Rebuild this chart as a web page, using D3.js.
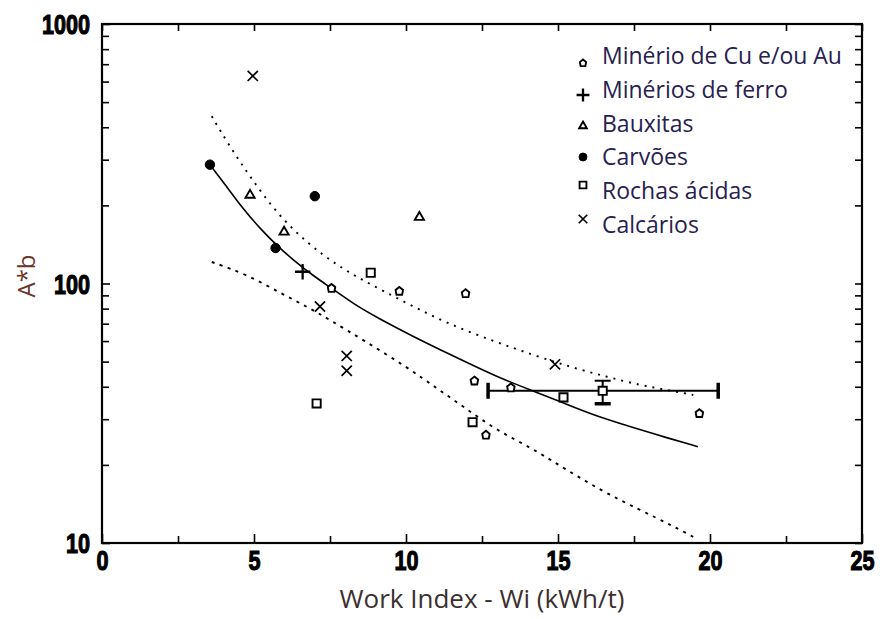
<!DOCTYPE html>
<html><head><meta charset="utf-8">
<script src="https://cdn.jsdelivr.net/npm/d3@7"></script>
<style>body{margin:0;background:#fff}svg{display:block}</style></head>
<body><svg id="c" width="880" height="619"></svg>
<script>
// ---- data ----
const xMajorTicks = [0, 5, 10, 15, 20, 25];
const xMinorTicks = [2.5, 7.5, 12.5, 17.5, 22.5];
const yLabelTicks = [10, 100, 1000];
const yMinorTicks = [20,30,40,50,60,70,80,90,200,300,400,500,600,700,800,900];

const legendNames = ["Minério de Cu e/ou Au","Minérios de ferro","Bauxitas","Carvões","Rochas ácidas","Calcários"];

const cuAu    = [[7.55,96],[9.78,93.5],[11.96,91.6],[12.25,42.2],[12.63,26.1],[13.45,39.7],[19.65,31.6]];
const ferro   = [[6.6,111]];
const bauxita = [[4.87,219],[5.99,158],[10.44,180]];
const carvao  = [[3.55,287],[5.71,137],[7.0,217]];
const rochas  = [[8.84,110],[7.06,34.5],[12.19,29.2],[15.18,36.4],[16.47,38.6]];
const calc    = [[4.96,631],[7.17,81.5],[8.05,52.6],[8.05,46.1],[14.9,48.8]];

// fitted curve and confidence bands (read at several x positions)
const fitX   = [3.55,4.0,4.65,5.2,5.75,6.3,7.0,7.55,8.3,9.04,10.24,11.56,12.98,14.19,15.07,16.16,17.5,18.5,19.6];
const fitY   = [287,245,193,163,140,123,106,96,83,74,62.4,52.5,43.7,38.5,35.1,31.1,27.8,25.6,23.5];
const upX    = [3.61,4.21,4.87,5.75,6.78,7.72,8.5,10.02,11.34,12.87,14.19,15.4,16.6,17.7,18.57,19.45];
const upY    = [441,336,258,186,142,118,104,84,70.3,60,53,47.7,43.7,40.6,38.9,37.2];
const loX    = [3.61,4.76,5.86,6.78,7.5,8.6,10.02,11.01,12.0,12.98,14.08,14.96,16.38,17.7,18.8,19.55];
const loY    = [121,108.5,92,81,72.3,60.5,47.7,39.5,32.8,27.2,23.4,20.2,16,13.4,11.6,10.4];

// error bar on one point
const errCenter = [16.47, 38.6];
const errXRange = [12.7, 20.27];
const errYRange = [34.4, 42.2];

// ---- chart ----
const svg = d3.select("#c");
const L = 102, R = 862, T = 24, B = 543;
const x = d3.scaleLinear().domain([0,25]).range([L,R]);
const y = d3.scaleLog().domain([10,1000]).range([B,T]);

const tickFont = "'Liberation Sans','Arial',sans-serif";
const textFont = "'Open Sans','Noto Sans','DejaVu Sans',sans-serif";

// ticks (inward)
const gx = svg.append("g").attr("transform",`translate(0,${B})`)
  .call(d3.axisBottom(x).tickValues(xMajorTicks).tickSize(-9).tickFormat(d3.format("d")));
svg.append("g").attr("transform",`translate(0,${B})`)
  .call(d3.axisBottom(x).tickValues(xMinorTicks).tickSize(-7).tickFormat(""));
svg.append("g").attr("transform",`translate(0,${T})`)
  .call(d3.axisTop(x).tickValues(xMajorTicks.concat(xMinorTicks)).tickSize(-7).tickFormat(""));
const gy = svg.append("g").attr("transform",`translate(${L},0)`)
  .call(d3.axisLeft(y).tickValues(yLabelTicks).tickSize(-8).tickFormat(d3.format("d")));
svg.append("g").attr("transform",`translate(${L},0)`)
  .call(d3.axisLeft(y).tickValues(yMinorTicks).tickSize(-7).tickFormat(""));
svg.append("g").attr("transform",`translate(${R},0)`)
  .call(d3.axisRight(y).tickValues(yMinorTicks.concat(yLabelTicks)).tickSize(-7).tickFormat(""));

svg.selectAll(".domain").remove();
svg.selectAll(".tick line").attr("stroke","#000").attr("stroke-width",1.6);
const sx = 0.8;
gx.selectAll(".tick text").attr("y",27).attr("dy",null).attr("transform",`scale(${sx},1)`)
  .attr("font-family",tickFont).attr("font-weight","bold").attr("font-size",27)
  .attr("fill","#000").attr("stroke","#000").attr("stroke-width",1.1);
gy.selectAll(".tick text").attr("x",-12/sx).attr("dy","0.36em").attr("transform",`scale(${sx},1)`)
  .attr("font-family",tickFont).attr("font-weight","bold").attr("font-size",27)
  .attr("fill","#000").attr("stroke","#000").attr("stroke-width",1.1);

// frame
svg.append("rect").attr("x",L).attr("y",T).attr("width",R-L).attr("height",B-T)
  .attr("fill","none").attr("stroke","#000").attr("stroke-width",2.2);

// axis titles
svg.append("text").attr("x",482).attr("y",599).attr("text-anchor","middle").attr("dy","0.35em")
  .attr("font-family",textFont).attr("font-size",26).attr("fill","#3b2f2f")
  .text("Work Index - Wi (kWh/t)");
svg.append("text").attr("transform","translate(27,276) rotate(-90)").attr("text-anchor","middle").attr("dy","0.35em")
  .attr("font-family",textFont).attr("font-size",24).attr("fill","#6b3528")
  .text("A*b");

// lines
const line = d3.line().x(d=>x(d[0])).y(d=>y(d[1])).curve(d3.curveBasis);
const zip = (a,b)=>a.map((v,i)=>[v,b[i]]);
svg.append("path").attr("d",line(zip(fitX,fitY))).attr("fill","none").attr("stroke","#000").attr("stroke-width",1.6);
svg.append("path").attr("d",line(zip(upX,upY))).attr("fill","none").attr("stroke","#000").attr("stroke-width",1.9)
  .attr("stroke-dasharray","2,6");
svg.append("path").attr("d",line(zip(loX,loY))).attr("fill","none").attr("stroke","#000").attr("stroke-width",1.9)
  .attr("stroke-dasharray","3,5.5");

// error bars
const eb = svg.append("g").attr("stroke","#000");
const cy = y(errCenter[1]);
eb.append("line").attr("x1",x(errXRange[0])).attr("x2",x(errXRange[1])).attr("y1",cy).attr("y2",cy).attr("stroke-width",2);
[errXRange[0],errXRange[1]].forEach(v=>eb.append("line").attr("x1",x(v)).attr("x2",x(v)).attr("y1",cy-8).attr("y2",cy+8).attr("stroke-width",3.5));
eb.append("line").attr("x1",x(errCenter[0])).attr("x2",x(errCenter[0])).attr("y1",y(errYRange[0])).attr("y2",y(errYRange[1])).attr("stroke-width",2);
eb.append("line").attr("x1",x(errCenter[0])-8).attr("x2",x(errCenter[0])+8).attr("y1",y(errYRange[1])).attr("y2",y(errYRange[1])).attr("stroke-width",2);
eb.append("line").attr("x1",x(errCenter[0])-8).attr("x2",x(errCenter[0])+8).attr("y1",y(errYRange[0])).attr("y2",y(errYRange[0])).attr("stroke-width",3.5);

// marker symbols
const pentagon = {draw(ctx, size){ const r=Math.sqrt(size)/2;
  ctx.moveTo(0,-r*1.1); ctx.lineTo(r,-r*0.3); ctx.lineTo(r*0.75,r); ctx.lineTo(-r*0.75,r); ctx.lineTo(-r,-r*0.3); ctx.closePath(); }};
const styles = [
  {type:pentagon, size:56, fill:"#fff", sw:1.9},
  {type:d3.symbolPlus, size:80, fill:"none", sw:2.3},
  {type:d3.symbolTriangle2, size:60, fill:"#fff", sw:1.9},
  {type:d3.symbolCircle, size:70, fill:"#000", sw:1},
  {type:d3.symbolSquare2, size:85, fill:"#fff", sw:1.9},
  {type:d3.symbolTimes, size:70, fill:"none", sw:1.7}
];
const series = [cuAu, ferro, bauxita, carvao, rochas, calc];
series.forEach((data,i)=>{
  const s = styles[i];
  svg.append("g").selectAll("path").data(data).join("path")
    .attr("transform",d=>`translate(${x(d[0])},${y(d[1])})`)
    .attr("d",d3.symbol().type(s.type).size(s.size))
    .attr("fill",s.fill).attr("stroke","#000").attr("stroke-width",s.sw);
});

// legend
const legY = [56,90,124,157,191,225];
const legMarkOff = [7,5,2,0,-6,-6];
legendNames.forEach((name,i)=>{
  const s = styles[i];
  svg.append("path").attr("transform",`translate(583,${legY[i]+legMarkOff[i]})`)
    .attr("d",d3.symbol().type(s.type).size(s.size*0.7))
    .attr("fill",s.fill).attr("stroke","#000").attr("stroke-width",s.sw);
  svg.append("text").attr("x",602).attr("y",legY[i]).attr("dy","0.35em")
    .attr("font-family",textFont).attr("font-size",23).attr("fill","#272150").text(name);
});
</script></body></html>
